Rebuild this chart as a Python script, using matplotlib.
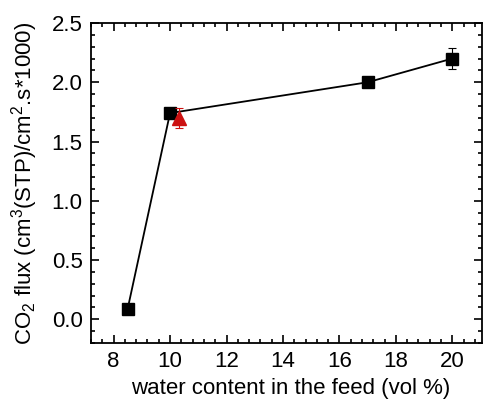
import matplotlib
matplotlib.use("Agg")
import matplotlib.pyplot as plt
from matplotlib.ticker import MultipleLocator

plt.rcParams['font.family'] = ['Liberation Sans', 'DejaVu Sans']
plt.rcParams['mathtext.fontset'] = 'custom'
plt.rcParams['mathtext.rm'] = 'Liberation Sans'
plt.rcParams['mathtext.it'] = 'Liberation Sans'

# membrane series
water = [8.5, 10, 17, 20]
flux = [0.09, 1.74, 2.00, 2.20]
flux_err = [0, 0, 0, 0.09]

# repeat measurement
water_rep = [10.3]
flux_rep = [1.70]
flux_rep_err = [0.085]

fig = plt.figure(figsize=(4.86, 3.99), dpi=100)
ax = fig.add_axes([91/486, 1 - 343/399, (482 - 91)/486, (343 - 23)/399])

ax.plot(water, flux, color='black', lw=1.3, zorder=2)
ax.errorbar(water, flux, yerr=flux_err, fmt='s', color='black', ms=8,
            ecolor='black', elinewidth=0.8, capsize=3, capthick=0.8, zorder=3)
ax.errorbar(water_rep, flux_rep, yerr=flux_rep_err, fmt='^', color='#cc1111', ms=10,
            ecolor='#cc1111', elinewidth=0.8, capsize=3, capthick=0.8, zorder=4)

ax.set_xlim(7.2, 21.05)
ax.set_ylim(-0.2, 2.5)
ax.xaxis.set_major_locator(MultipleLocator(2))
ax.xaxis.set_minor_locator(MultipleLocator(0.4))
ax.yaxis.set_major_locator(MultipleLocator(0.5))
ax.yaxis.set_minor_locator(MultipleLocator(0.1))
ax.tick_params(which='both', direction='in', top=True, right=True, labelsize=16, width=1.2)
ax.tick_params(which='major', length=6, pad=6)
ax.tick_params(which='minor', length=3)
for s in ax.spines.values():
    s.set_linewidth(1.3)

ax.set_xlabel('water content in the feed (vol %)', fontsize=16)
ax.set_ylabel(r'CO$_2$ flux (cm$^3$(STP)/cm$^2$.s*1000)', fontsize=16)
ax.xaxis.set_label_coords(0.51, -0.11)
ax.yaxis.set_label_coords(-0.13, 0.5)

fig.savefig('out.png', dpi=100)
